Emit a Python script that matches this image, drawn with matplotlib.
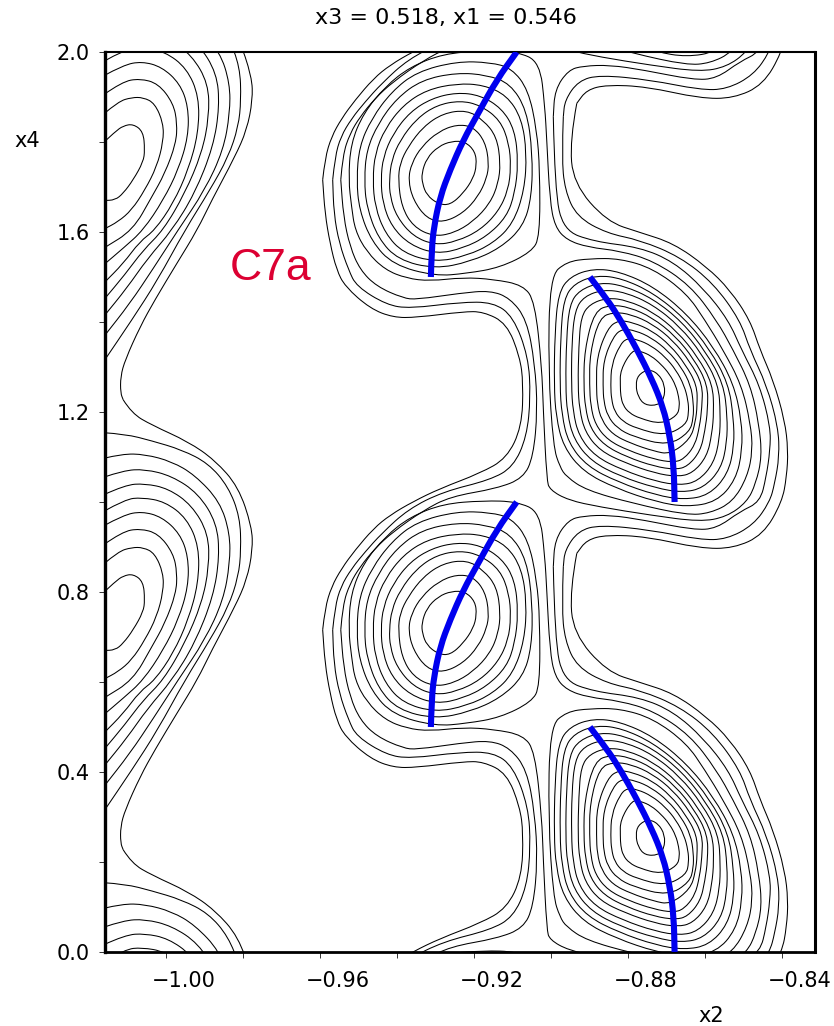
import numpy as np
import matplotlib
matplotlib.use("Agg")
import matplotlib.pyplot as plt
from matplotlib.patches import PathPatch
from matplotlib.path import Path
from matplotlib.ticker import MultipleLocator, FixedLocator, FixedFormatter
from matplotlib.transforms import ScaledTranslation

plt.rcParams['font.family'] = ['DejaVu Sans']

## contours, the field repeats every 1.0 in x4
## closed loops round the left hand peak (x2 about -0.926)
k1_x = [-0.9336,-0.9323,-0.9293,-0.9258,-0.9223,-0.9197,-0.9193,-0.9202,-0.9228,-0.9262,-0.9293,-0.9323,-0.9334]
k1_y = [0.730,0.764,0.790,0.802,0.801,0.779,0.749,0.719,0.686,0.660,0.662,0.682,0.708]
k2_x = [-0.9371,-0.9362,-0.9336,-0.9293,-0.9245,-0.9202,-0.9171,-0.9161,-0.9167,-0.9189,-0.9228,-0.9280,-0.9323,-0.9358]
k2_y = [0.716,0.753,0.790,0.823,0.839,0.834,0.801,0.753,0.719,0.679,0.642,0.621,0.630,0.671]
k3_x = [-0.9397,-0.9392,-0.9371,-0.9332,-0.9280,-0.9219,-0.9176,-0.9141,-0.9131,-0.9137,-0.9158,-0.9202,-0.9254,-0.9306,-0.9358,-0.9388]
k3_y = [0.716,0.753,0.790,0.834,0.864,0.871,0.849,0.812,0.753,0.708,0.664,0.623,0.597,0.590,0.612,0.656]
k4_x = [-0.9420,-0.9414,-0.9392,-0.9349,-0.9297,-0.9236,-0.9184,-0.9132,-0.9109,-0.9104,-0.9111,-0.9137,-0.9184,-0.9245,-0.9301,-0.9358,-0.9401,-0.9418]
k4_y = [0.716,0.760,0.804,0.852,0.882,0.892,0.882,0.849,0.797,0.745,0.693,0.645,0.604,0.579,0.571,0.590,0.634,0.679]
k5_x = [-0.9442,-0.9436,-0.9410,-0.9366,-0.9310,-0.9245,-0.9184,-0.9128,-0.9094,-0.9085,-0.9094,-0.9115,-0.9167,-0.9228,-0.9297,-0.9366,-0.9414,-0.9437]
k5_y = [0.716,0.767,0.819,0.867,0.897,0.910,0.904,0.875,0.827,0.753,0.686,0.634,0.590,0.564,0.551,0.571,0.612,0.664]
k6_x = [-0.9463,-0.9457,-0.9431,-0.9384,-0.9323,-0.9245,-0.9176,-0.9115,-0.9076,-0.9063,-0.9069,-0.9098,-0.9150,-0.9219,-0.9301,-0.9384,-0.9431,-0.9457]
k6_y = [0.716,0.775,0.830,0.882,0.916,0.930,0.927,0.904,0.852,0.775,0.693,0.619,0.575,0.547,0.533,0.553,0.597,0.656]
k7_x = [-0.9485,-0.9479,-0.9449,-0.9401,-0.9336,-0.9245,-0.9167,-0.9106,-0.9063,-0.9048,-0.9050,-0.9072,-0.9132,-0.9210,-0.9301,-0.9397,-0.9449,-0.9479]
k7_y = [0.716,0.782,0.841,0.897,0.938,0.954,0.949,0.930,0.871,0.775,0.679,0.612,0.564,0.534,0.518,0.538,0.586,0.656]
k8_x = [-0.9505,-0.9498,-0.9466,-0.9414,-0.9349,-0.9245,-0.9158,-0.9102,-0.9059,-0.9037,-0.9029,-0.9029,-0.9050,-0.9132,-0.9219,-0.9301,-0.9410,-0.9466,-0.9498]
k8_y = [0.716,0.790,0.852,0.912,0.956,0.979,0.977,0.964,0.916,0.827,0.738,0.590,0.556,0.521,0.508,0.502,0.527,0.579,0.649]

## closed loops round the right hand peak (x2 about -0.874)
d1_x = [-0.8780,-0.8774,-0.8748,-0.8722,-0.8704,-0.8706,-0.8722,-0.8756,-0.8774]
d1_y = [1.260,1.282,1.295,1.286,1.260,1.230,1.215,1.215,1.234]
d2_x = [-0.8820,-0.8820,-0.8789,-0.8767,-0.8740,-0.8714,-0.8692,-0.8676,-0.8668,-0.8666,-0.8672,-0.8714,-0.8770,-0.8797,-0.8813,-0.8819]
d2_y = [1.258,1.293,1.338,1.335,1.325,1.306,1.284,1.259,1.233,1.213,1.192,1.173,1.186,1.198,1.215,1.236]
d3_x = [-0.8845,-0.8843,-0.8821,-0.8803,-0.8775,-0.8739,-0.8704,-0.8675,-0.8654,-0.8644,-0.8642,-0.8649,-0.8704,-0.8779,-0.8814,-0.8835,-0.8843]
d3_y = [1.258,1.305,1.349,1.364,1.361,1.347,1.323,1.293,1.259,1.226,1.199,1.171,1.147,1.164,1.179,1.201,1.229]
d4_x = [-0.8865,-0.8864,-0.8838,-0.8815,-0.8781,-0.8739,-0.8696,-0.8662,-0.8637,-0.8630,-0.8630,-0.8640,-0.8696,-0.8786,-0.8828,-0.8853,-0.8863]
d4_y = [1.258,1.314,1.368,1.385,1.381,1.365,1.336,1.300,1.260,1.220,1.187,1.155,1.125,1.145,1.164,1.191,1.224]
d5_x = [-0.8882,-0.8881,-0.8853,-0.8825,-0.8787,-0.8738,-0.8690,-0.8651,-0.8621,-0.8620,-0.8625,-0.8638,-0.8690,-0.8733,-0.8792,-0.8840,-0.8869,-0.8880]
d5_y = [1.258,1.323,1.386,1.404,1.399,1.381,1.348,1.306,1.260,1.215,1.177,1.140,1.106,1.113,1.130,1.150,1.182,1.219]
d6_x = [-0.8900,-0.8899,-0.8874,-0.8836,-0.8792,-0.8737,-0.8683,-0.8639,-0.8606,-0.8608,-0.8614,-0.8626,-0.8655,-0.8683,-0.8732,-0.8798,-0.8852,-0.8885,-0.8897]
d6_y = [1.259,1.331,1.410,1.422,1.417,1.396,1.359,1.312,1.261,1.210,1.168,1.126,1.095,1.088,1.095,1.114,1.137,1.172,1.214]
d7_x = [-0.8915,-0.8913,-0.8887,-0.8844,-0.8797,-0.8737,-0.8677,-0.8629,-0.8593,-0.8593,-0.8600,-0.8612,-0.8645,-0.8677,-0.8731,-0.8803,-0.8862,-0.8898,-0.8911]
d7_y = [1.259,1.338,1.425,1.438,1.433,1.410,1.369,1.318,1.261,1.205,1.159,1.113,1.079,1.072,1.079,1.100,1.126,1.164,1.210]
d8_x = [-0.8930,-0.8928,-0.8922,-0.8899,-0.8853,-0.8802,-0.8736,-0.8672,-0.8619,-0.8580,-0.8577,-0.8582,-0.8595,-0.8632,-0.8672,-0.8730,-0.8808,-0.8873,-0.8912,-0.8926]
d8_y = [1.259,1.345,1.412,1.440,1.454,1.448,1.423,1.379,1.323,1.262,1.201,1.151,1.101,1.064,1.056,1.064,1.087,1.114,1.156,1.206]
d9_x = [-0.8947,-0.8946,-0.8938,-0.8914,-0.8864,-0.8807,-0.8736,-0.8665,-0.8608,-0.8565,-0.8560,-0.8562,-0.8577,-0.8618,-0.8665,-0.8729,-0.8814,-0.8885,-0.8928,-0.8943]
d9_y = [1.259,1.354,1.426,1.457,1.472,1.466,1.439,1.390,1.329,1.262,1.195,1.141,1.086,1.046,1.037,1.046,1.071,1.101,1.147,1.202]
d10_x = [-0.8962,-0.8960,-0.8952,-0.8926,-0.8872,-0.8812,-0.8735,-0.8659,-0.8598,-0.8552,-0.8542,-0.8543,-0.8558,-0.8604,-0.8659,-0.8728,-0.8820,-0.8895,-0.8941,-0.8958]
d10_y = [1.259,1.361,1.439,1.471,1.488,1.481,1.452,1.400,1.334,1.263,1.191,1.132,1.074,1.031,1.021,1.031,1.057,1.090,1.139,1.198]
d11_x = [-0.8977,-0.8975,-0.8967,-0.8939,-0.8881,-0.8816,-0.8735,-0.8654,-0.8588,-0.8539,-0.8526,-0.8524,-0.8541,-0.8590,-0.8654,-0.8727,-0.8825,-0.8906,-0.8955,-0.8972]
d11_y = [1.260,1.368,1.451,1.486,1.504,1.497,1.465,1.409,1.340,1.263,1.187,1.124,1.061,1.015,1.005,1.015,1.044,1.079,1.131,1.194]
d12_x = [-0.8992,-0.8990,-0.8981,-0.8951,-0.8890,-0.8821,-0.8734,-0.8648,-0.8578,-0.8526,-0.8505,-0.8503,-0.8520,-0.8570,-0.8648,-0.8726,-0.8830,-0.8916,-0.8968,-0.8987]
d12_y = [1.260,1.375,1.464,1.501,1.519,1.512,1.479,1.419,1.345,1.264,1.182,1.115,1.049,1.000,0.989,1.000,1.030,1.067,1.123,1.190]
u_x = [-0.9007,-0.9003,-0.8960,-0.8899,-0.8821,-0.8735,-0.8648,-0.8600,-0.8553,-0.8505,-0.8482,-0.8476,-0.8490,-0.8528,-0.8587,-0.8648,-0.8787,-0.8908,-0.8960,-0.8977,-0.8994]
u_y = [1.293,1.501,1.534,1.541,1.541,1.519,1.464,1.404,1.338,1.260,1.175,1.115,1.056,1.000,0.975,0.971,0.997,1.026,1.056,1.078,1.123]

## the one loop that goes round both peaks
t_x = [-0.9526,-0.9520,-0.9487,-0.9431,-0.9366,-0.9280,-0.9176,-0.9089,-0.9029,-0.9016,
       -0.9011,-0.9003,-0.8990,-0.8959,-0.8903,-0.8821,-0.8734,-0.8639,-0.8570,
       -0.8527,-0.8482,-0.8460,-0.8452,-0.8468,-0.8491,-0.8544,-0.8613,-0.8743,-0.8873,
       -0.8955,-0.9003,-0.9011,-0.9020,-0.9024,-0.9042,-0.9072,-0.9150,-0.9228,-0.9314,-0.9375,-0.9431,
       -0.9479,-0.9509,-0.9518]
t_y = [1.716,1.797,1.864,1.923,1.967,1.996,2.003,2.001,1.978,1.879,
       1.804,1.671,1.612,1.582,1.566,1.558,1.536,1.482,1.404,
       1.338,1.260,1.175,1.101,1.041,1.000,0.967,0.956,0.971,0.989,
       1.004,1.027,1.049,1.204,1.301,1.445,1.482,1.495,1.499,1.491,1.497,1.516,
       1.556,1.604,1.656]

## open lines that run on from one period to the next
s1_x = [-0.9593,-0.9587,-0.9570,-0.9544,-0.9509,-0.9461,-0.9418,-0.9358,-0.9288,-0.9184,-0.9115,-0.9076,-0.9072,-0.9081,-0.9115,-0.9176,-0.9228,-0.9349,-0.9410,-0.9470,-0.9535,-0.9557,-0.9574,-0.9587,-0.9593]
s1_y = [0.716,0.764,0.812,0.852,0.893,0.941,0.971,1.001,1.030,1.064,1.097,1.167,1.264,1.323,1.397,1.423,1.423,1.410,1.410,1.430,1.479,1.516,1.575,1.641,1.716]
s2_x = [-0.9567,-0.9561,-0.9546,-0.9518,-0.9483,-0.9440,-0.9371,-0.9280,-0.9158,-0.9098,-0.9063,-0.9053,-0.9059,-0.9098,-0.9150,-0.9236,-0.9366,-0.9427,-0.9505,-0.9526,-0.9550,-0.9564,-0.9567]
s2_y = [0.716,0.767,0.812,0.852,0.889,0.930,0.984,1.023,1.049,1.078,1.145,1.234,1.323,1.412,1.444,1.444,1.430,1.438,1.479,1.516,1.575,1.641,1.716]
s3_x = [-0.9546,-0.9541,-0.9522,-0.9496,-0.9457,-0.9410,-0.9332,-0.9262,-0.9141,-0.9072,-0.9046,-0.9035,-0.9042,-0.9063,-0.9106,-0.9158,-0.9236,-0.9349,-0.9384,-0.9453,-0.9496,-0.9522,-0.9539,-0.9546]
s3_y = [0.716,0.771,0.819,0.856,0.897,0.934,0.981,1.012,1.030,1.053,1.101,1.204,1.308,1.405,1.453,1.470,1.464,1.450,1.453,1.479,1.516,1.567,1.634,1.716]
a_x = [-0.8933,-0.8951,-0.8942,-0.8855,-0.8769,-0.8682,-0.8596,-0.8535,-0.8483,-0.8457,-0.8423,-0.8393,-0.8384,-0.8388,-0.8400,-0.8449,-0.8526,-0.8613,-0.8752,-0.8855,-0.8907,-0.8933]
a_y = [1.886,1.804,1.708,1.623,1.599,1.575,1.523,1.471,1.404,1.338,1.271,1.182,1.115,1.056,1.000,0.927,0.897,0.897,0.923,0.927,0.916,0.886]
b_x = [-0.8968,-0.8972,-0.8964,-0.8933,-0.8855,-0.8769,-0.8665,-0.8578,-0.8509,-0.8483,-0.8440,-0.8410,-0.8407,-0.8419,-0.8432,-0.8474,-0.8544,-0.8613,-0.8743,-0.8873,-0.8929,-0.8964,-0.8968]
b_y = [1.856,1.767,1.693,1.634,1.597,1.582,1.545,1.486,1.404,1.338,1.260,1.167,1.101,1.041,1.000,0.949,0.917,0.916,0.938,0.949,0.936,0.893,0.856]
c_x = [-0.8994,-0.8990,-0.8968,-0.8890,-0.8769,-0.8682,-0.8604,-0.8539,-0.8505,-0.8458,-0.8430,-0.8431,-0.8441,-0.8457,-0.8509,-0.8570,-0.8630,-0.8760,-0.8847,-0.8916,-0.8955,-0.8990,-0.8994]
c_y = [1.856,1.693,1.604,1.579,1.566,1.534,1.475,1.404,1.338,1.260,1.167,1.115,1.056,1.000,0.979,0.941,0.938,0.960,0.971,0.969,0.960,0.916,0.856]

## far left peak, these lines start and end on the left axis
l1_x = [-1.0162,-1.0132,-1.0111,-1.0085,-1.0059,-1.0055,-1.0059,-1.0085,-1.0111,-1.0132,-1.0162]
l1_y = [0.799,0.823,0.836,0.840,0.823,0.782,0.756,0.716,0.686,0.671,0.670]
l2_x = [-1.0162,-1.0124,-1.0089,-1.0059,-1.0029,-1.0007,-1.0007,-1.0024,-1.0055,-1.0089,-1.0124,-1.0162]
l2_y = [0.862,0.890,0.899,0.899,0.886,0.842,0.801,0.745,0.693,0.649,0.623,0.606]
l3_x = [-1.0162,-1.0114,-1.0068,-1.0020,-0.9981,-0.9971,-0.9974,-1.0003,-1.0037,-1.0086,-1.0162]
l3_y = [0.905,0.934,0.941,0.930,0.886,0.842,0.797,0.730,0.678,0.604,0.564]
l4_x = [-1.0162,-1.0111,-1.0063,-1.0011,-0.9964,-0.9942,-0.9942,-0.9968,-1.0007,-1.0059,-1.0111,-1.0162]
l4_y = [0.947,0.971,0.979,0.967,0.930,0.879,0.812,0.738,0.671,0.604,0.564,0.527]
l5_x = [-1.0162,-1.0106,-1.0063,-1.0003,-0.9946,-0.9914,-0.9916,-0.9942,-0.9981,-1.0029,-1.0068,-1.0111,-1.0162]
l5_y = [0.979,1.006,1.010,1.001,0.964,0.901,0.819,0.738,0.664,0.604,0.579,0.530,0.486]
l6_x = [-1.0162,-1.0106,-1.0055,-0.9994,-0.9933,-0.9890,-0.9888,-0.9907,-0.9951,-1.0007,-1.0059,-1.0107,-1.0162]
l6_y = [1.016,1.038,1.041,1.030,0.993,0.930,0.856,0.775,0.686,0.604,0.560,0.505,0.449]
l7_x = [-1.0162,-1.0111,-1.0055,-0.9985,-0.9916,-0.9868,-0.9861,-0.9877,-0.9925,-0.9984,-1.0048,-1.0102,-1.0162]
l7_y = [1.055,1.070,1.073,1.058,1.019,0.953,0.879,0.790,0.686,0.604,0.541,0.475,0.412]
l8_x = [-1.0162,-1.0114,-1.0055,-0.9985,-0.9925,-0.9860,-0.9834,-0.9834,-0.9851,-0.9899,-0.9969,-1.0033,-1.0094,-1.0162]
l8_y = [1.097,1.107,1.106,1.090,1.060,1.001,0.930,0.864,0.782,0.693,0.604,0.519,0.441,0.367]
l9_x = [-1.0162,-1.0106,-1.0037,-0.9959,-0.9890,-0.9838,-0.9808,-0.9805,-0.9812,-0.9838,-0.9886,-0.9951,-1.0022,-1.0089,-1.0162]
l9_y = [1.154,1.151,1.136,1.116,1.086,1.034,0.967,0.893,0.834,0.767,0.693,0.604,0.493,0.404,0.312]
sl_x = [-1.0111,-1.0089,-1.0037,-0.9942,-0.9873,-0.9812,-0.9777,-0.9775,-0.9790,-0.9821,-0.9881,-0.9919,-0.9972,-1.0029,-1.0067,-1.0106,-1.0118,-1.0118,-1.0111]
sl_y = [1.227,1.197,1.171,1.134,1.093,1.034,0.945,0.893,0.827,0.767,0.671,0.604,0.530,0.449,0.390,0.316,0.279,0.242,0.227]

## blue paths
path1_x = [-0.9312,-0.9310,-0.9304,-0.9288,-0.9262,-0.9228,-0.9189,-0.9141,-0.9089]
path1_y = [0.500,0.560,0.612,0.678,0.738,0.804,0.864,0.938,1.000]
path2_x = [-0.8899,-0.8856,-0.8817,-0.8778,-0.8739,-0.8709,-0.8691,-0.8681,-0.8679]
path2_y = [1.500,1.453,1.401,1.341,1.275,1.212,1.145,1.078,1.000]

closed_lines = [(k1_x, k1_y), (k2_x, k2_y), (k3_x, k3_y), (k4_x, k4_y), (k5_x, k5_y), (k6_x, k6_y), (k7_x, k7_y), (k8_x, k8_y),
                (d1_x, d1_y), (d2_x, d2_y), (d3_x, d3_y), (d4_x, d4_y), (d5_x, d5_y), (d6_x, d6_y), (d7_x, d7_y), (d8_x, d8_y),
                (d9_x, d9_y), (d10_x, d10_y), (d11_x, d11_y), (d12_x, d12_y), (u_x, u_y), (t_x, t_y)]
open_lines = [(s1_x, s1_y), (s2_x, s2_y), (s3_x, s3_y), (a_x, a_y), (b_x, b_y), (c_x, c_y),
              (l1_x, l1_y), (l2_x, l2_y), (l3_x, l3_y), (l4_x, l4_y), (l5_x, l5_y), (l6_x, l6_y), (l7_x, l7_y), (l8_x, l8_y), (l9_x, l9_y), (sl_x, sl_y)]

x_major = [-1.00, -0.96, -0.92, -0.88, -0.84]
x_labels = ["\u22121.00", "\u22120.96", "\u22120.92", "\u22120.88", "\u22120.84"]
y_major = [0.0, 0.4, 0.8, 1.2, 1.6, 2.0]
y_labels = ["0.0", "0.4", "0.8", "1.2", "1.6", "2.0"]


def smooth_path(xs, ys, shift, closed):
    ## read points are the control points of quadratic curves, so no corners
    pts = np.column_stack([xs, np.array(ys) + shift])
    if closed:
        pts = np.vstack([pts, pts[:2]])
        verts = [(pts[0] + pts[1]) / 2]
    else:
        verts = [pts[0]]
    codes = [Path.MOVETO]
    for i in range(1, len(pts) - 1):
        verts += [pts[i], (pts[i] + pts[i + 1]) / 2]
        codes += [Path.CURVE3, Path.CURVE3]
    if not closed:
        verts.append(pts[-1])
        codes.append(Path.LINETO)
    return Path(verts, codes)


fig = plt.figure(figsize=(8.34, 10.26), dpi=100)
ax = fig.add_axes([105.5 / 834, 1 - 952 / 1026, (815 - 105.5) / 834, 900 / 1026])

for shift in [-2, -1, 0, 1]:
    for xs, ys in closed_lines:
        ax.add_patch(PathPatch(smooth_path(xs, ys, shift, True), fc="none", ec="black", lw=0.75))
    for xs, ys in open_lines:
        ax.add_patch(PathPatch(smooth_path(xs, ys, shift, False), fc="none", ec="black", lw=0.75))

for shift in [0, 1]:
    ax.add_patch(PathPatch(smooth_path(path1_x, path1_y, shift, False), fc="none", ec="#0000ee", lw=4.4, capstyle="butt", zorder=3))
for shift in [0, -1]:
    ax.add_patch(PathPatch(smooth_path(path2_x, path2_y, shift, False), fc="none", ec="#0000ee", lw=4.4, capstyle="butt", zorder=3))

ax.set_xlim(-1.01571, -0.83143)
ax.set_ylim(0, 2)

ax.xaxis.set_major_locator(FixedLocator(x_major))
ax.xaxis.set_major_formatter(FixedFormatter(x_labels))
ax.xaxis.set_minor_locator(MultipleLocator(0.02))
ax.yaxis.set_major_locator(FixedLocator(y_major))
ax.yaxis.set_major_formatter(FixedFormatter(y_labels))
ax.yaxis.set_minor_locator(MultipleLocator(0.2))
ax.tick_params(which="both", length=4.5, width=0.7, color="#333333")
ax.tick_params(axis="x", which="major", labelsize=15, pad=9)
ax.tick_params(axis="y", which="major", labelsize=15, pad=7)

## the x labels sit a bit to the right of their ticks in the original
shift_right = ScaledTranslation(18 / 100, 0, fig.dpi_scale_trans)
for lab in ax.get_xticklabels():
    lab.set_transform(lab.get_transform() + shift_right)

ax.spines["left"].set_linewidth(2.4)
ax.spines["right"].set_linewidth(2.2)
ax.spines["bottom"].set_linewidth(2.0)
ax.spines["top"].set_linewidth(1.5)

ax.text(-0.9834, 1.493, "C7a", color="#dc0032", fontsize=32, ha="left", va="baseline", family="Liberation Sans")

fig.text(446 / 834, 1 - 18 / 1026, "x3 = 0.518, x1 = 0.546", fontsize=16, ha="center", va="center")
fig.text(27 / 834, 1 - 141 / 1026, "x4", fontsize=15, ha="center", va="center")
fig.text(711 / 834, 1 - 1016 / 1026, "x2", fontsize=15, ha="center", va="center")

fig.savefig("out.png", dpi=100)
